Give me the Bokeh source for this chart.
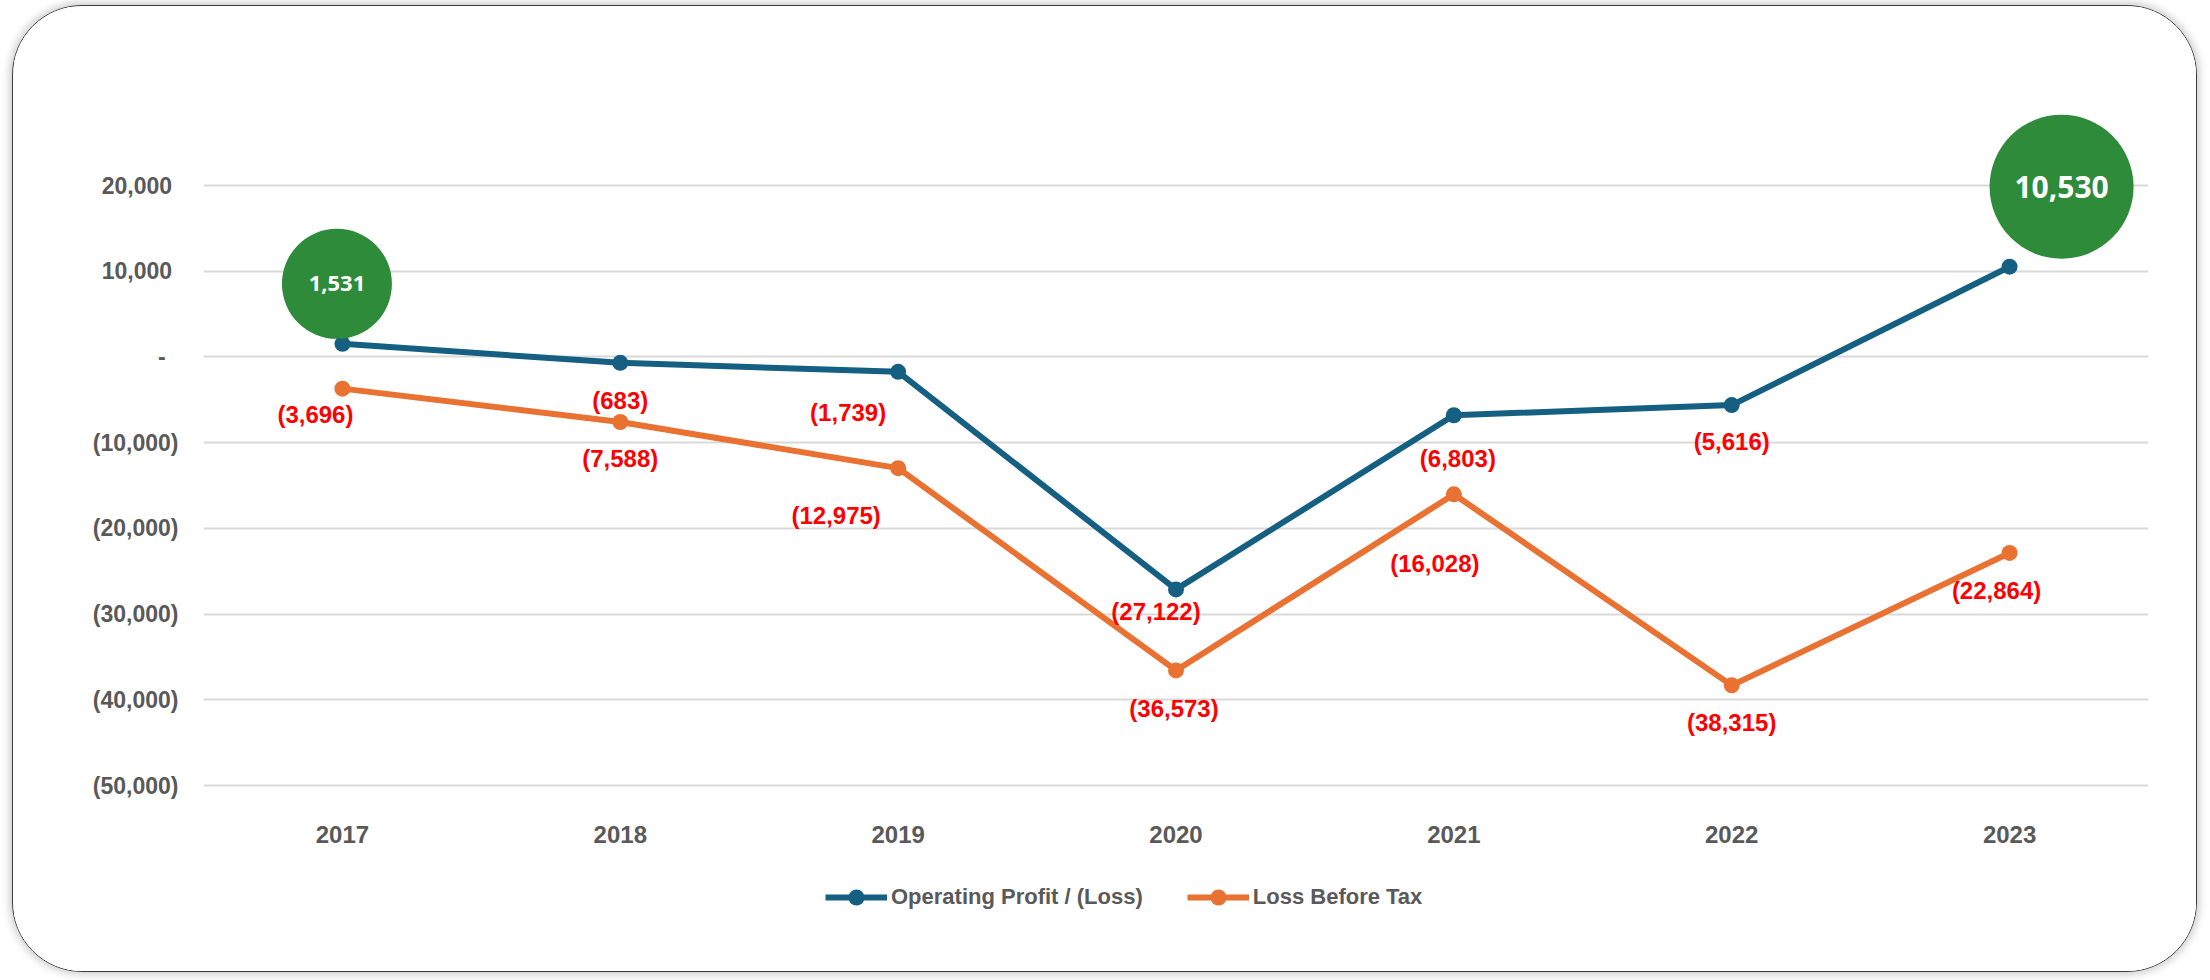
from bokeh.plotting import figure
from bokeh.models import (ColumnDataSource, FactorRange, Range1d, FixedTicker,
                          Legend, LegendItem)
from bokeh.transform import dodge
from bokeh.core.properties import value
from bokeh.embed import file_html
from bokeh.resources import INLINE

# ---------------- data ----------------
years = ["2017", "2018", "2019", "2020", "2021", "2022", "2023"]
operating_profit = [1531, -683, -1739, -27122, -6803, -5616, 10530]
loss_before_tax = [-3696, -7588, -12975, -36573, -16028, -38315, -22864]
series_names = ["Operating Profit / (Loss)", "Loss Before Tax"]
y_ticks = [20000, 10000, 0, -10000, -20000, -30000, -40000, -50000]
y_tick_labels = ["20,000", "10,000", "-", "(10,000)", "(20,000)",
                 "(30,000)", "(40,000)", "(50,000)"]

# ---------------- layout / style ----------------
W, H = 2185, 967
B_LEFT, B_RIGHT, B_TOP, B_BOTTOM = 190, 50, 32, 10
FRAME_W = W - B_LEFT - B_RIGHT
PX_PER_UNIT = 85.71 / 10000.0
GRID_BOTTOM_PX = 779            # content y of the lowest gridline
GRID_TOP_PX = GRID_BOTTOM_PX - (max(y_ticks) - min(y_ticks)) * PX_PER_UNIT
Y_START = min(y_ticks) - (H - B_BOTTOM - GRID_BOTTOM_PX) / PX_PER_UNIT
Y_END = max(y_ticks) + (GRID_TOP_PX - B_TOP) / PX_PER_UNIT
CAT_PX = FRAME_W / len(years)

BLUE = "#156082"
ORANGE = "#E97132"
GREEN = "#2E8B3A"
RED = "#FF0000"
GREY = "#595959"
FONT = "Liberation Sans"


def fmt(v):
    s = f"{abs(v):,}"
    return f"({s})" if v < 0 else s


p = figure(width=W, height=H, x_range=FactorRange(*years, range_padding=0),
           y_range=Range1d(Y_START, Y_END),
           output_backend="svg", toolbar_location=None,
           min_border_left=B_LEFT, min_border_right=B_RIGHT,
           min_border_top=B_TOP, min_border_bottom=B_BOTTOM)
p.styles = {"border": "1.5px solid #3c3c3c", "border-radius": "70px",
            "box-shadow": "0 0 9px 2px rgba(0,0,0,0.22)", "overflow": "hidden",
            "margin-left": "12px", "margin-top": "5px"}
p.outline_line_color = None
p.background_fill_color = "white"
p.border_fill_color = "white"

p.xgrid.grid_line_color = None
p.ygrid.grid_line_color = "#D9D9D9"
p.ygrid.grid_line_width = 2

p.yaxis.ticker = FixedTicker(ticks=y_ticks)
overrides = {}
for t, lab in zip(y_ticks, y_tick_labels):
    if t > 0:
        overrides[t] = lab + "\u00a0"
    elif t == 0:
        overrides[t] = lab + "\u00a0\u00a0"
    else:
        overrides[t] = lab
p.yaxis.major_label_overrides = overrides
p.yaxis.axis_line_color = None
p.yaxis.major_tick_line_color = None
p.yaxis.minor_tick_line_color = None
p.yaxis.major_tick_out = 0
p.yaxis.major_label_text_font = FONT
p.yaxis.major_label_text_font_style = "bold"
p.yaxis.major_label_text_color = GREY
p.yaxis.major_label_text_font_size = "23px"
p.yaxis.major_label_standoff = 25
p.xaxis.visible = False

# category labels under the lowest gridline
cat_src = ColumnDataSource(dict(x=years, y=[min(y_ticks)] * len(years)))
p.text("x", "y", text="x", source=cat_src, y_offset=49,
       text_align="center", text_baseline="middle", text_color=GREY,
       text_font=value(FONT), text_font_style="bold", text_font_size="24px")

# ---------------- series ----------------
src = ColumnDataSource(dict(x=years, op=operating_profit, lbt=loss_before_tax))
l1 = p.line("x", "op", source=src, color=BLUE, line_width=6, line_join="round")
m1 = p.scatter("x", "op", source=src, size=16, color=BLUE, line_width=0)
l2 = p.line("x", "lbt", source=src, color=ORANGE, line_width=6, line_join="round")
m2 = p.scatter("x", "lbt", source=src, size=16, color=ORANGE, line_width=0)

# ---------------- data labels ----------------
# screen offsets (px) of each label centre from its point; None = bubble label
op_off = [None, (0, 38), (-50, 41), (-20, 22), (4, 43), (0, 36), None]
lbt_off = [(-27, 26), (0, 37), (-62, 47), (-2, 38), (-19, 69), (0, 37), (-13, 38)]

lab_x, lab_y, lab_t, lab_dx, lab_dy = [], [], [], [], []
for vals, offs in ((operating_profit, op_off), (loss_before_tax, lbt_off)):
    for yr, v, o in zip(years, vals, offs):
        if o is None:
            continue
        lab_x.append(yr)
        lab_y.append(v)
        lab_t.append(fmt(v))
        lab_dx.append(o[0])
        lab_dy.append(o[1])
lab_src = ColumnDataSource(dict(x=lab_x, y=lab_y, t=lab_t, dx=lab_dx, dy=lab_dy))
p.text("x", "y", text="t", source=lab_src, x_offset="dx", y_offset="dy",
       text_align="center", text_baseline="middle", text_color=RED,
       text_font=value(FONT), text_font_style="bold", text_font_size="24px")

# ---------------- bubble labels (positive operating profit) ----------------
bubble_style = {"2017": dict(dx=-5.5, dy=-60, r=55, fs="22px"),
                "2023": dict(dx=52, dy=-80, r=72, fs="30px")}
for yr, v in zip(years, operating_profit):
    if yr not in bubble_style:
        continue
    st = bubble_style[yr]
    bsrc = ColumnDataSource(dict(x=[yr], y=[v - st["dy"] / PX_PER_UNIT],
                                 t=[fmt(v)]))
    bx = dodge("x", st["dx"] / CAT_PX, range=p.x_range)
    p.circle(bx, "y", radius=st["r"], radius_units="screen", source=bsrc,
             fill_color=GREEN, line_color=None)
    p.text(bx, "y", text="t", source=bsrc, text_align="center",
           text_baseline="middle", text_color="white",
           text_font=value("Open Sans"), text_font_style="bold",
           text_font_size=st["fs"])

# ---------------- legend ----------------
legend = Legend(items=[LegendItem(label=series_names[0], renderers=[l1, m1]),
                       LegendItem(label=series_names[1], renderers=[l2, m2])],
                orientation="horizontal", location=(622, 46),
                glyph_width=62, glyph_height=40, label_standoff=4, spacing=44,
                padding=0, margin=0, border_line_color=None,
                background_fill_alpha=0,
                label_text_font=FONT, label_text_font_style="bold",
                label_text_font_size="22px", label_text_color=GREY)
p.add_layout(legend, "center")

open("out.html", "w").write(file_html(p, INLINE))
